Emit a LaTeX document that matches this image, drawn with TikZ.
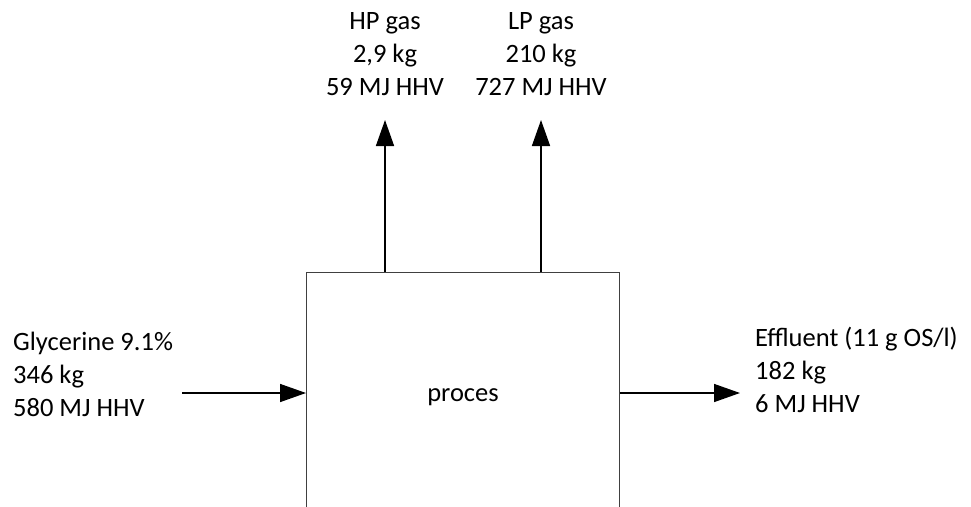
\documentclass[tikz,border=0pt]{standalone}
\usepackage{fontspec}
\setmainfont{Carlito}
\usetikzlibrary{arrows.meta}
\begin{document}
\begin{tikzpicture}[x=1pt,y=-1pt,
  lbl/.style={inner sep=0pt,font=\fontsize{26.5}{33}\selectfont},
  flow/.style={line width=1.5pt,-{Triangle[length=26pt,width=18pt]}},
  procbox/.style={draw=black!75,line width=1pt,rectangle,minimum width=313pt,minimum height=348pt,inner sep=0pt}]
\useasboundingbox (0,0) rectangle (971,506);
\clip (0,0) rectangle (971,506);
\node[procbox] (proc) at (463,446) {};
\node[lbl,anchor=base] (proctxt) at (463,401) {proces};
% labels
\node[lbl,anchor=base west] (gly) at (13,350) {\begin{tabular}[t]{@{}l@{}}Glycerine 9.1\%\\346 kg\\580 MJ HHV\end{tabular}};
\node[lbl,anchor=base] (hp) at (385,29) {\begin{tabular}[t]{@{}c@{}}HP gas\\2,9 kg\\59 MJ HHV\end{tabular}};
\node[lbl,anchor=base] (lp) at (541,29) {\begin{tabular}[t]{@{}c@{}}LP gas\\210 kg\\727 MJ HHV\end{tabular}};
\node[lbl,anchor=base west] (eff) at (755,346) {\begin{tabular}[t]{@{}l@{}}Effluent (11 g OS/l)\\182 kg\\6 MJ HHV\end{tabular}};
% connector end points
\coordinate (inS) at (182,393);
\coordinate (outE) at (740,393);
\coordinate (hpE) at (385,120);
\coordinate (lpE) at (541,120);
\draw[flow] (inS) -- (inS -| proc.west);
\draw[flow] (outE -| proc.east) -- (outE);
\draw[flow] (hpE |- proc.north) -- (hpE);
\draw[flow] (lpE |- proc.north) -- (lpE);
\end{tikzpicture}
\end{document}
